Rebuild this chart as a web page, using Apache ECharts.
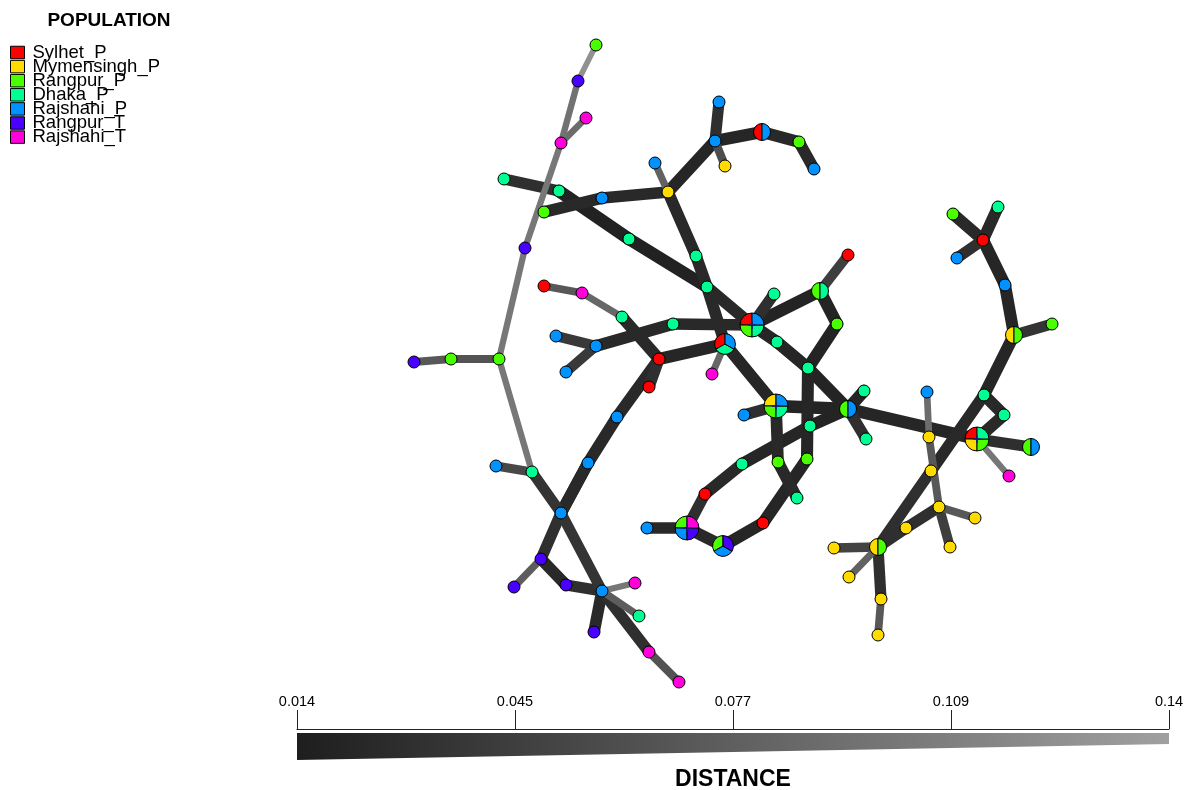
<!DOCTYPE html>
<html>
<head>
<meta charset="utf-8">
<script src="https://cdn.jsdelivr.net/npm/echarts@6/dist/echarts.min.js"></script>
<style>html,body{margin:0;padding:0;background:#fff}#c{width:1187px;height:790px}</style>
</head>
<body>
<div id="c"></div>
<script>
// ---- populations ----
const popNames = ['Sylhet_P','Mymensingh_P','Rangpur_P','Dhaka_P','Rajshahi_P','Rangpur_T','Rajshahi_T'];
const popColors = ['#FF0000','#FFDB00','#49FF00','#00FF92','#0092FF','#4900FF','#FF00DB'];

// ---- network nodes (layout coordinates) ----
const nodeX = [596,578,586,561,525,499,451,414,532,496,561,541,514,566,602,635,639,594,649,679,
  504,559,544,602,668,655,715,719,725,762,799,814,629,696,707,752,774,820,848,837,
  777,808,725,712,673,596,556,566,544,582,622,659,649,617,588,776,744,848,864,866,
  810,807,778,797,742,705,763,687,647,723,953,998,983,957,1005,1014,1052,984,1004,977,
  1031,1009,927,929,931,939,975,950,906,878,834,849,881,878];
const nodeY = [45,81,118,143,248,359,359,362,472,466,513,559,587,585,591,583,616,632,652,682,
  179,191,212,198,192,163,141,102,166,132,142,169,239,256,287,325,294,291,255,324,
  342,368,344,374,324,346,336,372,286,293,317,359,387,417,463,406,415,409,391,439,
  426,459,462,498,464,494,523,528,528,546,214,207,240,258,285,335,324,395,415,439,
  447,476,392,437,471,507,518,547,528,547,548,577,599,635];
// population membership of each node (indices into popNames)
const nodePops = [[2],[5],[6],[6],[5],[2],[2],[5],[3],[4],[4],[5],[5],[5],[4],[6],[3],[5],[6],[6],
  [3],[3],[2],[4],[1],[4],[4],[4],[1],[0,4],[2],[4],[3],[3],[3],[0,2,3,4],[3],[2,3],[0],[2],
  [3],[3],[0,3,4],[6],[3],[4],[4],[4],[0],[6],[3],[0],[0],[4],[4],[1,2,3,4],[4],[2,4],[3],[3],
  [3],[2],[2],[3],[3],[0],[0],[2,4,5,6],[4],[2,4,5],[2],[3],[0],[4],[4],[1,2],[2],[3],[3],[0,1,2,3],
  [2,4],[6],[4],[1],[1],[1],[1],[1],[1],[1,2],[1],[1],[1],[1]];

// ---- edges (1-based node numbers) and genetic distance ----
const edgeFrom = [1,2,3,4,5,6,7,6,9,9,11,55,11,12,12,14,15,15,15,15,19,
  21,22,33,35,23,24,25,25,27,27,27,30,31,25,34,35,36,45,46,46,
  36,36,38,38,40,36,41,42,42,61,58,61,58,56,56,43,56,63,62,67,70,68,68,66,
  43,43,49,50,51,52,52,54,55,58,83,84,78,85,86,86,86,89,90,90,90,93,
  71,72,74,73,75,76,76,78,79,80,80];
const edgeTo = [2,4,4,5,6,7,8,9,10,11,15,11,12,13,14,15,16,17,18,19,20,
  22,33,35,36,24,25,26,27,28,29,30,31,32,34,35,43,45,46,47,48,
  37,38,39,40,42,41,42,58,62,58,59,65,60,58,57,56,63,64,67,70,68,69,66,65,
  52,44,50,51,52,53,54,55,11,80,84,86,85,90,87,88,89,90,91,92,93,94,
  73,73,73,75,76,77,78,79,80,81,82];
const edgeDist = [0.125,0.095,0.09,0.1,0.1,0.065,0.07,0.1,0.055,0.035,0.035,0.025,0.03,0.075,0.025,0.03,0.1,0.075,0.025,0.03,0.065,
  0.03,0.018,0.018,0.025,0.025,0.025,0.08,0.022,0.03,0.06,0.022,0.025,0.025,0.025,0.025,0.025,0.025,0.025,0.04,0.04,
  0.03,0.02,0.045,0.02,0.02,0.022,0.022,0.02,0.022,0.02,0.02,0.022,0.03,0.02,0.03,0.022,0.025,0.025,0.022,0.022,0.025,0.025,0.03,0.025,
  0.022,0.085,0.07,0.085,0.025,0.03,0.025,0.025,0.025,0.022,0.09,0.07,0.025,0.03,0.07,0.045,0.03,0.03,0.05,0.08,0.03,0.07,
  0.025,0.025,0.03,0.022,0.022,0.035,0.022,0.025,0.025,0.03,0.1];

// ---- distance scale ----
const distMin = 0.014, distMax = 0.14;
const distTickLabels = ['0.014','0.045','0.077','0.109','0.14'];

function distT(d){ return Math.max(0, Math.min(1, (d - distMin) / (distMax - distMin))); }
function distColor(d){ const g = Math.round(30 + distT(d) * 130); return 'rgb(' + g + ',' + g + ',' + g + ')'; }
function distWidth(d){ const t = distT(d); return 5.5 + 7.5 * (1 - t) * (1 - t); }

const edgeData = edgeFrom.map((f, i) => [f - 1, edgeTo[i] - 1, edgeDist[i]])
  .sort((a, b) => a[2] - b[2]);
const nodeData = nodeX.map((x, i) => [x, nodeY[i], i]);

const chart = echarts.init(document.getElementById('c'), null, {renderer: 'canvas'});

const legendSeries = popNames.map((n, i) => ({
  name: n, type: 'scatter', data: [], xAxisIndex: 0, yAxisIndex: 0,
  itemStyle: {color: popColors[i], opacity: 1, borderColor: '#000', borderWidth: 1}
}));

const option = {
  animation: false,
  backgroundColor: '#fff',
  grid: [
    {left: 0, top: 0, width: 1187, height: 790, containLabel: false},
    {left: 297, top: 729, width: 872, height: 31, containLabel: false}
  ],
  xAxis: [
    {gridIndex: 0, type: 'value', min: 0, max: 1187, show: false},
    {gridIndex: 1, type: 'value', min: 0, max: 4, interval: 1, position: 'top',
     axisLine: {show: true, lineStyle: {color: '#222', width: 1.2}},
     axisTick: {show: true, length: 19, inside: false, lineStyle: {color: '#222', width: 1}},
     axisLabel: {show: true, margin: 20, color: '#000', fontSize: 14.5, fontFamily: 'Liberation Sans',
       formatter: v => distTickLabels[Math.round(v)] || ''},
     splitLine: {show: false}}
  ],
  yAxis: [
    {gridIndex: 0, type: 'value', min: 0, max: 790, inverse: true, show: false},
    {gridIndex: 1, type: 'value', min: 0, max: 31, inverse: true, show: false}
  ],
  legend: {
    orient: 'vertical', left: 10, top: 43, itemWidth: 14, itemHeight: 12.5, itemGap: -4.9,
    icon: 'rect', padding: 0,
    itemStyle: {borderColor: '#000', borderWidth: 1, opacity: 1},
    textStyle: {fontSize: 18.5, color: '#000', fontFamily: 'Liberation Sans', padding: [0, 0, 0, 3]},
    data: popNames
  },
  graphic: [
    {type: 'text', x: 109, y: 21, style: {text: 'POPULATION', align: 'center', verticalAlign: 'middle',
      textAlign: 'center', textVerticalAlign: 'middle', font: 'bold 19px "Liberation Sans"', fill: '#000'}},
    {type: 'text', x: 733, y: 780, style: {text: 'DISTANCE', align: 'center', verticalAlign: 'middle',
      textAlign: 'center', textVerticalAlign: 'middle', font: 'bold 23px "Liberation Sans"', fill: '#000'}}
  ],
  series: [
    {
      type: 'custom', name: 'edges', xAxisIndex: 0, yAxisIndex: 0, silent: true, z: 1,
      data: edgeData,
      renderItem: function (params, api) {
        const f = api.value(0), t = api.value(1), d = api.value(2);
        const p1 = api.coord([nodeX[f], nodeY[f]]);
        const p2 = api.coord([nodeX[t], nodeY[t]]);
        return {type: 'line', shape: {x1: p1[0], y1: p1[1], x2: p2[0], y2: p2[1]},
          style: {stroke: distColor(d), lineWidth: distWidth(d), lineCap: 'round'}};
      }
    },
    {
      type: 'custom', name: 'nodes', xAxisIndex: 0, yAxisIndex: 0, silent: true, z: 3,
      data: nodeData,
      renderItem: function (params, api) {
        const idx = api.value(2);
        const c = api.coord([api.value(0), api.value(1)]);
        const pops = nodePops[idx];
        const n = pops.length;
        const r = 6 * Math.sqrt(n);
        if (n === 1) {
          return {type: 'circle', shape: {cx: c[0], cy: c[1], r: r},
            style: {fill: popColors[pops[0]], stroke: '#000', lineWidth: 1}};
        }
        const children = [];
        for (let k = 0; k < n; k++) {
          const a0 = -Math.PI / 2 - k * 2 * Math.PI / n;
          const a1 = -Math.PI / 2 - (k + 1) * 2 * Math.PI / n;
          children.push({type: 'sector', shape: {cx: c[0], cy: c[1], r0: 0, r: r, startAngle: a1, endAngle: a0, clockwise: true},
            style: {fill: popColors[pops[k]], stroke: '#000', lineWidth: 1}});
        }
        if (n === 4) {
          children.push({type: 'line', shape: {x1: c[0] - 4, y1: c[1], x2: c[0] + 4, y2: c[1]}, style: {stroke: '#1a1a80', lineWidth: 1.5}});
          children.push({type: 'line', shape: {x1: c[0], y1: c[1] - 4, x2: c[0], y2: c[1] + 4}, style: {stroke: '#1a1a80', lineWidth: 1.5}});
        }
        return {type: 'group', children: children};
      }
    },
    {
      type: 'custom', name: 'distance scale', xAxisIndex: 1, yAxisIndex: 1, silent: true, z: 2,
      data: [[0, 4]],
      renderItem: function (params, api) {
        const p = [api.coord([0, 4]), api.coord([4, 4]), api.coord([4, 15]), api.coord([0, 31])];
        return {type: 'polygon', shape: {points: p},
          style: {fill: {type: 'linear', x: 0, y: 0, x2: 1, y2: 0, global: false,
            colorStops: [{offset: 0, color: distColor(distMin)}, {offset: 1, color: distColor(distMax)}]}}};
      }
    }
  ].concat(legendSeries)
};
chart.setOption(option);
</script>
</body>
</html>
